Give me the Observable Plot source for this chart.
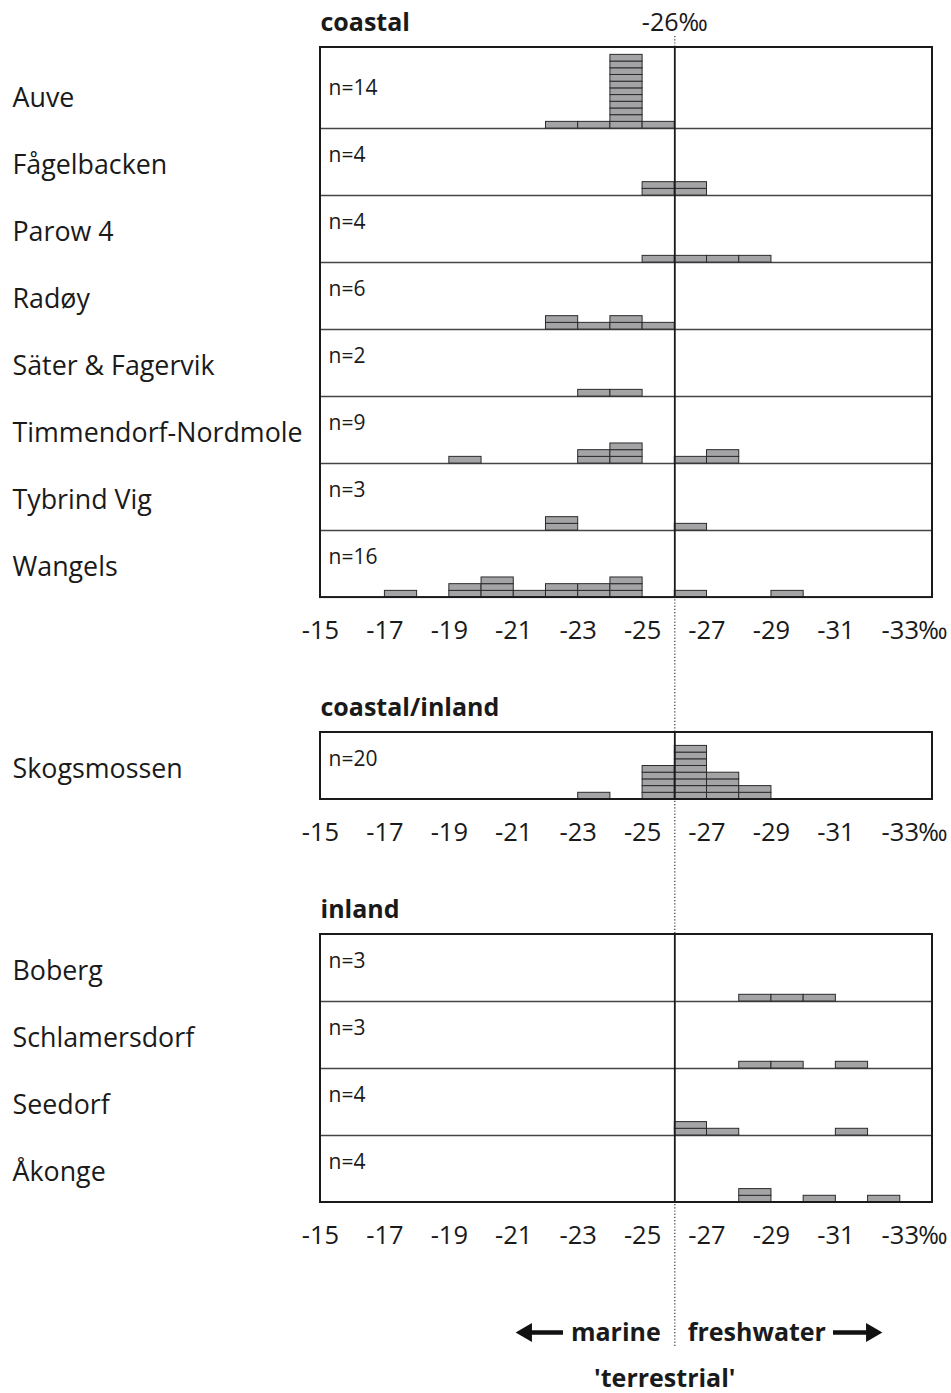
<!DOCTYPE html>
<html><head><meta charset="utf-8">
<script src="https://cdn.jsdelivr.net/npm/d3@7"></script>
<script src="https://cdn.jsdelivr.net/npm/@observablehq/plot@0.6"></script>
<style>
body{margin:0;background:#fff;}
#chart svg{display:block;}
</style></head><body><div id="chart"></div>
<script>
// ---------- DATA ----------
const groups = ["coastal", "coastal/inland", "inland"];
const sites = ["Auve","Fågelbacken","Parow 4","Radøy","Säter & Fagervik","Timmendorf-Nordmole","Tybrind Vig","Wangels","Skogsmossen","Boberg","Schlamersdorf","Seedorf","Åkonge"];
const siteGroup = ["coastal","coastal","coastal","coastal","coastal","coastal","coastal","coastal","coastal/inland","inland","inland","inland","inland"];
const siteN = [14,4,4,6,2,9,3,16,20,3,3,4,4];
// 1‰ bins, each bin runs from its value to value-1 (e.g. -24 means -24 to -25‰)
const bins = [-15,-16,-17,-18,-19,-20,-21,-22,-23,-24,-25,-26,-27,-28,-29,-30,-31,-32,-33];
const auve          = [0,0,0,0,0,0,0,1,1,11,1,0,0,0,0,0,0,0,0];
const fagelbacken   = [0,0,0,0,0,0,0,0,0,0,2,2,0,0,0,0,0,0,0];
const parow4        = [0,0,0,0,0,0,0,0,0,0,1,1,1,1,0,0,0,0,0];
const radoy         = [0,0,0,0,0,0,0,2,1,2,1,0,0,0,0,0,0,0,0];
const saterFagervik = [0,0,0,0,0,0,0,0,1,1,0,0,0,0,0,0,0,0,0];
const timmendorf    = [0,0,0,0,1,0,0,0,2,3,0,1,2,0,0,0,0,0,0];
const tybrindVig    = [0,0,0,0,0,0,0,2,0,0,0,1,0,0,0,0,0,0,0];
const wangels       = [0,0,1,0,2,3,1,2,2,3,0,1,0,0,1,0,0,0,0];
const skogsmossen   = [0,0,0,0,0,0,0,0,1,0,5,8,4,2,0,0,0,0,0];
const boberg        = [0,0,0,0,0,0,0,0,0,0,0,0,0,1,1,1,0,0,0];
const schlamersdorf = [0,0,0,0,0,0,0,0,0,0,0,0,0,1,1,0,1,0,0];
const seedorf       = [0,0,0,0,0,0,0,0,0,0,0,2,1,0,0,0,1,0,0];
const akonge        = [0,0,0,0,0,0,0,0,0,0,0,0,0,2,0,1,0,1,0];
const siteCounts = [auve,fagelbacken,parow4,radoy,saterFagervik,timmendorf,tybrindVig,wangels,skogsmossen,boberg,schlamersdorf,seedorf,akonge];
const tickValues = [-15,-17,-19,-21,-23,-25,-27,-29,-31,-33];
const tickLabels = ["-15","-17","-19","-21","-23","-25","-27","-29","-31","-33"];
const unitLabel = "‰";
const referenceValue = -26;
const referenceLabel = "-26‰";
const leftLabel = "marine", rightLabel = "freshwater", centerLabel = "'terrestrial'";

// ---------- LAYOUT ----------
const W = 951, H = 1393;
const UNIT = 6.7;                 // px per specimen
const u = px => px / UNIT;        // px -> y units
const groupTopPx = {"coastal": 47, "coastal/inland": 732, "inland": 934};
const rowUnits = i => i === 0 ? 12.1 : 10;
const xScale = d3.scaleLinear([-15, -34], [320, 932]);

const rows = [];
const groupLayout = groups.map(g => ({group: g, top: u(groupTopPx[g]), bottom: u(groupTopPx[g])}));
sites.forEach((s, i) => {
  const gl = groupLayout[groups.indexOf(siteGroup[i])];
  const top = gl.bottom;
  const base = top + rowUnits(i);
  gl.bottom = base;
  rows.push({site: s, n: siteN[i], counts: siteCounts[i], top, base, group: siteGroup[i]});
});
const separators = rows.filter(r => groupLayout.find(g => g.group === r.group).bottom !== r.base);
const boxes = [];
rows.forEach(r => r.counts.forEach((c, i) => { for (let k = 0; k < c; k++) boxes.push({bin: bins[i], base: r.base, k}); }));
const tickRows = [];
groupLayout.forEach(g => tickValues.forEach((t, i) => tickRows.push({x: t, label: tickLabels[i], y: g.bottom + u(33)})));
const unitRows = groupLayout.map(g => ({y: g.bottom + u(33)}));

const annY = u(1332);
const arrows = [
  {x1: xScale.invert(563), x2: xScale.invert(528), tip: xScale.invert(526), rot: -90},
  {x1: xScale.invert(833), x2: xScale.invert(869), tip: xScale.invert(871), rot: 90}
];

const font = "'Open Sans', 'Noto Sans', sans-serif";
const chart = Plot.plot({
  width: W, height: H,
  style: {fontFamily: font, background: "#fff", color: "#1a1a1a"},
  x: {domain: [-15, -34], range: [320, 932], axis: null},
  y: {domain: [0, u(H)], range: [0, H], axis: null},
  marks: [
    // dotted reference line through the whole figure
    Plot.ruleX([referenceValue], {y1: u(36), y2: u(1347), stroke: "#333", strokeWidth: 1.2, strokeDasharray: "1.2,2"}),
    // panel backgrounds
    Plot.rect(groupLayout, {x1: -15, x2: -34, y1: "top", y2: "bottom", fill: "#fff"}),
    // row separators
    Plot.ruleY(separators, {y: "base", x1: -15, x2: -34, stroke: "#444", strokeWidth: 1.5}),
    // histogram boxes
    Plot.rect(boxes, {x1: "bin", x2: d => d.bin - 1, y1: d => d.base - d.k, y2: d => d.base - d.k - 1,
      fill: "#a4a4a6", stroke: "#2b2b2b", strokeWidth: 1}),
    // solid reference line inside panels
    Plot.ruleX(groupLayout, {x: referenceValue, y1: "top", y2: "bottom", stroke: "#1a1a1a", strokeWidth: 1.8}),
    // frames
    Plot.rect(groupLayout, {x1: -15, x2: -34, y1: "top", y2: "bottom", fill: "none", stroke: "#1a1a1a", strokeWidth: 2}),
    // group titles
    Plot.text(groupLayout, {x: -15, y: d => d.top - u(25), text: "group", textAnchor: "start", fontWeight: "bold", fontSize: 25, fill: "#1a1a1a"}),
    // reference label
    Plot.text([referenceLabel], {x: referenceValue, y: u(22), text: d => d, fontSize: 25, fill: "#1a1a1a"}),
    // site labels
    Plot.text(rows, {x: -15, y: d => d.base - u(30), text: "site", textAnchor: "start", dx: -308, fontSize: 26.8, fill: "#1a1a1a"}),
    // n labels
    Plot.text(rows, {x: -15, y: d => d.base - u(40), text: d => "n=" + d.n, textAnchor: "start", dx: 8, fontSize: 21, fill: "#1a1a1a"}),
    // tick labels
    Plot.text(tickRows, {x: "x", y: "y", text: "label", fontSize: 25.5, fill: "#1a1a1a"}),
    Plot.text(unitRows, {x: tickValues[tickValues.length - 1], y: "y", text: () => unitLabel, textAnchor: "start", dx: 18, fontSize: 25, fill: "#1a1a1a"}),
    // bottom annotation
    Plot.text([leftLabel], {x: referenceValue, y: annY, text: d => d, textAnchor: "end", dx: -14, fontWeight: "bold", fontSize: 25, fill: "#1a1a1a"}),
    Plot.text([rightLabel], {x: referenceValue, y: annY, text: d => d, textAnchor: "start", dx: 13, fontWeight: "bold", fontSize: 25, fill: "#1a1a1a"}),
    Plot.text([centerLabel], {x: referenceValue, y: u(1378), text: d => d, dx: -10, fontWeight: "bold", fontSize: 25, fill: "#1a1a1a"}),
    Plot.ruleY(arrows, {y: annY, x1: "x1", x2: "x2", stroke: "#111", strokeWidth: 4.5}),
    Plot.dot(arrows, {x: "tip", y: annY, symbol: "triangle", r: 7, rotate: "rot", fill: "#111", stroke: "none"})
  ]
});
document.getElementById("chart").appendChild(chart);
</script></body></html>
